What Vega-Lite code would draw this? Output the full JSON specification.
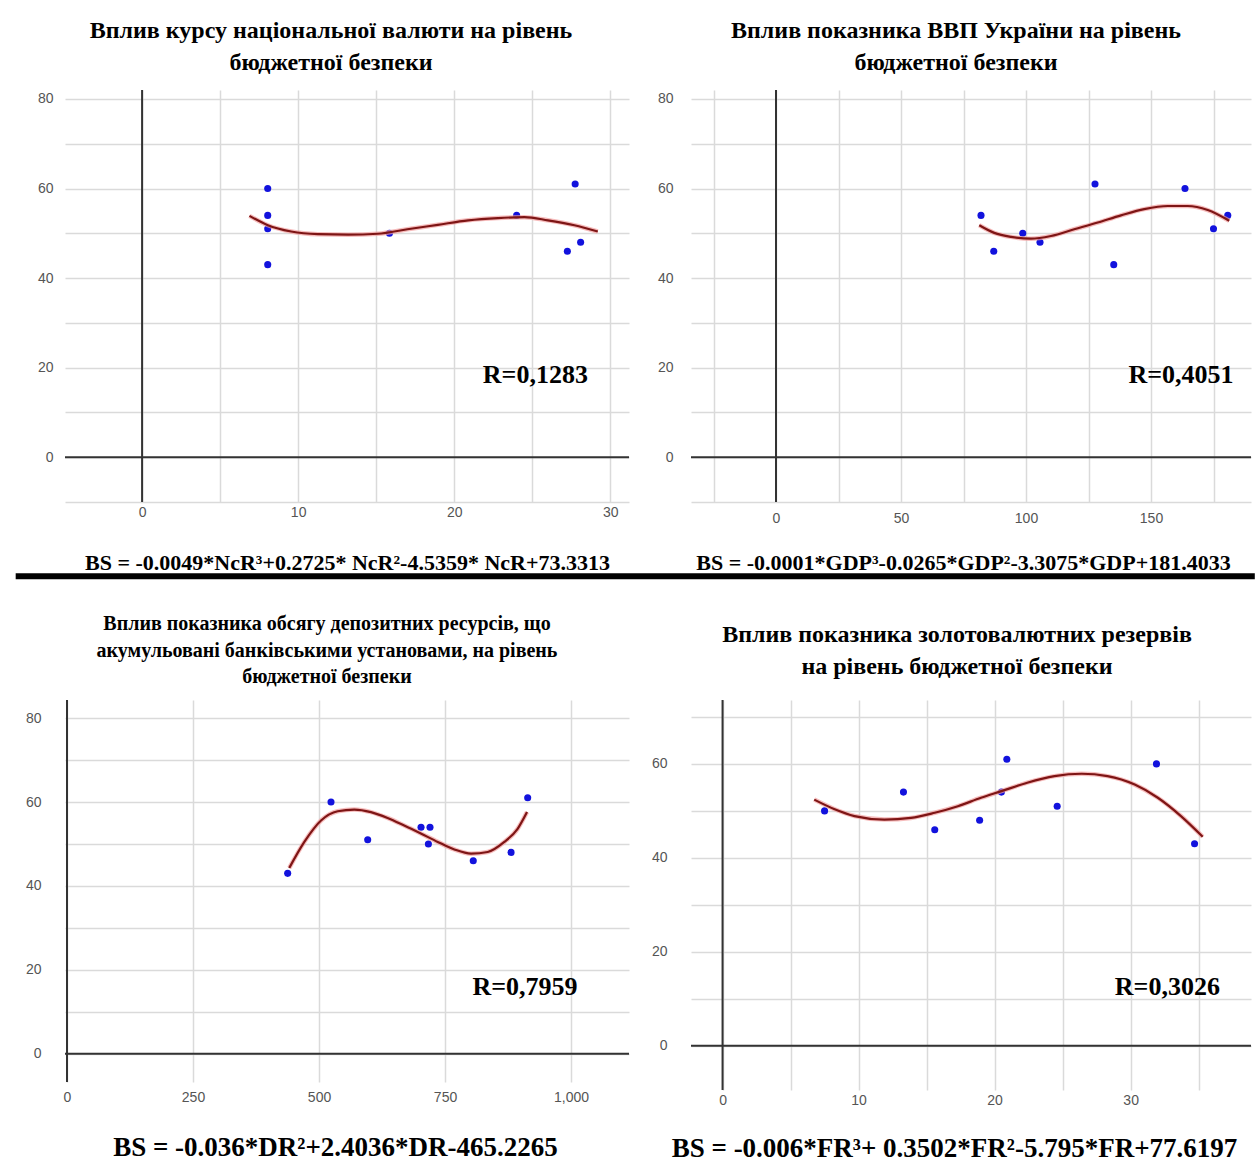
{
  "$schema": "https://vega.github.io/schema/vega-lite/v6.json",
  "background": "white",
  "padding": {"left": 12, "top": 19, "right": 0, "bottom": 4},
  "columns": 2,
  "bounds": "flush",
  "spacing": {"row": 198, "column": 62},
  "config": {
    "view": {"stroke": null},
    "axis": {"domain": false, "ticks": false, "grid": true, "gridColor": "#dadada", "gridWidth": 1.5, "labelFont": "Liberation Sans", "labelFontSize": 14, "labelColor": "#555", "titleFont": "Liberation Serif", "titleFontWeight": "bold", "titleFontSize": 22, "titleColor": "#000"},
    "title": {"font": "Liberation Serif", "fontWeight": "bold", "fontSize": 24, "color": "#000", "frame": "group", "anchor": "middle"}
  },
  "concat": [
    {
      "width": 564, "height": 412,
      "title": {"text": ["Вплив курсу національної валюти на рівень", "бюджетної безпеки"], "lineHeight": 32, "offset": 14, "dx": -16},
      "layer": [
        {
          "data": {"values": [{"x": 8.05, "y": 60}, {"x": 8.05, "y": 54}, {"x": 8.05, "y": 51}, {"x": 8.05, "y": 43}, {"x": 15.85, "y": 50}, {"x": 24.0, "y": 54}, {"x": 27.25, "y": 46}, {"x": 27.75, "y": 61}, {"x": 28.1, "y": 48}]},
          "mark": {"type": "circle", "size": 50, "color": "#1212dd", "opacity": 1},
          "encoding": {
            "x": {"field": "x", "type": "quantitative", "scale": {"domain": [-4.94, 31.2], "nice": false, "zero": false},
              "axis": {"values": [0, 5, 10, 15, 20, 25, 30], "labelExpr": "datum.value % 10 === 0 ? datum.label : ''", "labelPadding": 3, "title": "BS = -0.0049*NcR³+0.2725* NcR²-4.5359* NcR+73.3313", "titlePadding": 33}},
            "y": {"field": "y", "type": "quantitative", "scale": {"domain": [-10, 82], "nice": false, "zero": false},
              "axis": {"values": [-10, 0, 10, 20, 30, 40, 50, 60, 70, 80], "labelExpr": "datum.value % 20 === 0 && datum.value >= 0 ? datum.label : ''", "labelPadding": 12, "title": null}}
          }
        },
        {"data": {"values": [{"v": 0}]}, "mark": {"type": "rule", "color": "#333", "strokeWidth": 2}, "encoding": {"x": {"field": "v", "type": "quantitative"}}},
        {"data": {"values": [{"v": 0}]}, "mark": {"type": "rule", "color": "#333", "strokeWidth": 2}, "encoding": {"y": {"field": "v", "type": "quantitative"}}},
        {"data": {"values": [{"a": -8.1, "b": 71.3, "c": -26.6}]}, "mark": {"type": "rule", "color": "#000", "strokeWidth": 6}, "encoding": {"x": {"field": "a", "type": "quantitative"}, "x2": {"field": "b"}, "y": {"field": "c", "type": "quantitative"}}},
        {
          "data": {"values": [{"x": 6.88, "y": 53.9}, {"x": 8.06, "y": 51.8}, {"x": 9.55, "y": 50.4}, {"x": 11.26, "y": 49.8}, {"x": 13.2, "y": 49.7}, {"x": 15.1, "y": 49.9}, {"x": 17.0, "y": 50.9}, {"x": 18.95, "y": 51.9}, {"x": 20.9, "y": 52.9}, {"x": 22.8, "y": 53.4}, {"x": 24.5, "y": 53.6}, {"x": 26.0, "y": 52.9}, {"x": 27.7, "y": 51.8}, {"x": 29.2, "y": 50.4}]},
          "layer": [
            {"mark": {"type": "line", "color": "#f2a0a0", "strokeWidth": 4.5, "interpolate": "monotone", "opacity": 0.7}, "encoding": {"x": {"field": "x", "type": "quantitative"}, "y": {"field": "y", "type": "quantitative"}}},
            {"mark": {"type": "line", "color": "#7e1515", "strokeWidth": 2.2, "interpolate": "monotone"}, "encoding": {"x": {"field": "x", "type": "quantitative"}, "y": {"field": "y", "type": "quantitative"}}}
          ]
        },
        {
          "data": {"values": [{"x": 25.2, "y": 18.3, "label": "R=0,1283"}]},
          "mark": {"type": "text", "font": "Liberation Serif", "fontWeight": "bold", "fontSize": 26, "color": "#000"},
          "encoding": {"x": {"field": "x", "type": "quantitative"}, "y": {"field": "y", "type": "quantitative"}, "text": {"field": "label"}}
        }
      ]
    },
    {
      "width": 560, "height": 412,
      "title": {"text": ["Вплив показника ВВП України на рівень", "бюджетної безпеки"], "lineHeight": 32, "offset": 14, "dx": -15},
      "layer": [
        {
          "data": {"values": [{"x": 82.0, "y": 54}, {"x": 87.1, "y": 46}, {"x": 98.7, "y": 50}, {"x": 105.6, "y": 48}, {"x": 127.6, "y": 61}, {"x": 135.1, "y": 43}, {"x": 163.6, "y": 60}, {"x": 175.0, "y": 51}, {"x": 180.7, "y": 54}]},
          "mark": {"type": "circle", "size": 50, "color": "#1212dd", "opacity": 1},
          "encoding": {
            "x": {"field": "x", "type": "quantitative", "scale": {"domain": [-34, 190], "nice": false, "zero": false},
              "axis": {"values": [-25, 0, 25, 50, 75, 100, 125, 150, 175], "labelExpr": "datum.value % 50 === 0 && datum.value >= 0 && datum.value <= 150 ? datum.label : ''", "labelPadding": 9, "title": "BS = -0.0001*GDP³-0.0265*GDP²-3.3075*GDP+181.4033", "titlePadding": 27, "titleX": 272}},
            "y": {"field": "y", "type": "quantitative", "scale": {"domain": [-10, 82], "nice": false, "zero": false},
              "axis": {"values": [-10, 0, 10, 20, 30, 40, 50, 60, 70, 80], "labelExpr": "datum.value % 20 === 0 && datum.value >= 0 ? datum.label : ''", "labelPadding": 18, "title": null}}
          }
        },
        {"data": {"values": [{"v": 0}]}, "mark": {"type": "rule", "color": "#333", "strokeWidth": 2}, "encoding": {"x": {"field": "v", "type": "quantitative"}}},
        {"data": {"values": [{"v": 0}]}, "mark": {"type": "rule", "color": "#333", "strokeWidth": 2}, "encoding": {"y": {"field": "v", "type": "quantitative"}}},
        {
          "data": {"values": [{"x": 81.3, "y": 51.8}, {"x": 87.3, "y": 50.1}, {"x": 94.0, "y": 49.2}, {"x": 102.0, "y": 48.8}, {"x": 110.0, "y": 49.4}, {"x": 119.3, "y": 50.9}, {"x": 128.7, "y": 52.4}, {"x": 138.0, "y": 54.0}, {"x": 147.3, "y": 55.4}, {"x": 156.7, "y": 56.1}, {"x": 164.7, "y": 56.1}, {"x": 172.7, "y": 55.2}, {"x": 181.3, "y": 52.8}]},
          "layer": [
            {"mark": {"type": "line", "color": "#f2a0a0", "strokeWidth": 4.5, "interpolate": "monotone", "opacity": 0.7}, "encoding": {"x": {"field": "x", "type": "quantitative"}, "y": {"field": "y", "type": "quantitative"}}},
            {"mark": {"type": "line", "color": "#7e1515", "strokeWidth": 2.2, "interpolate": "monotone"}, "encoding": {"x": {"field": "x", "type": "quantitative"}, "y": {"field": "y", "type": "quantitative"}}}
          ]
        },
        {
          "data": {"values": [{"x": 162, "y": 18.3, "label": "R=0,4051"}]},
          "mark": {"type": "text", "font": "Liberation Serif", "fontWeight": "bold", "fontSize": 26, "color": "#000"},
          "encoding": {"x": {"field": "x", "type": "quantitative"}, "y": {"field": "y", "type": "quantitative"}, "text": {"field": "label"}}
        }
      ]
    },
    {
      "width": 564, "height": 382,
      "title": {"text": ["Вплив показника обсягу депозитних ресурсів, що", "акумульовані банківськими установами,  на рівень", "бюджетної безпеки"], "fontSize": 20, "lineHeight": 26.5, "offset": 12, "dx": -20},
      "layer": [
        {
          "data": {"values": [{"x": 437.8, "y": 43}, {"x": 523.8, "y": 60}, {"x": 596.6, "y": 51}, {"x": 702.4, "y": 54}, {"x": 720.2, "y": 54}, {"x": 717.0, "y": 50}, {"x": 806.0, "y": 46}, {"x": 881.0, "y": 48}, {"x": 914.0, "y": 61}]},
          "mark": {"type": "circle", "size": 50, "color": "#1212dd", "opacity": 1},
          "encoding": {
            "x": {"field": "x", "type": "quantitative", "scale": {"domain": [-3.97, 1115], "nice": false, "zero": false},
              "axis": {"values": [0, 250, 500, 750, 1000], "format": ",d", "labelPadding": 8, "title": "BS = -0.036*DR²+2.4036*DR-465.2265", "titleFontSize": 27, "titlePadding": 30, "titleX": 270}},
            "y": {"field": "y", "type": "quantitative", "scale": {"domain": [-6.7, 84.3], "nice": false, "zero": false},
              "axis": {"values": [0, 10, 20, 30, 40, 50, 60, 70, 80], "labelExpr": "datum.value % 20 === 0 ? datum.label : ''", "labelPadding": 24, "title": null}}
          }
        },
        {"data": {"values": [{"v": 0}]}, "mark": {"type": "rule", "color": "#333", "strokeWidth": 2}, "encoding": {"x": {"field": "v", "type": "quantitative"}}},
        {"data": {"values": [{"v": 0}]}, "mark": {"type": "rule", "color": "#333", "strokeWidth": 2}, "encoding": {"y": {"field": "v", "type": "quantitative"}}},
        {
          "data": {"values": [{"x": 441, "y": 44.3}, {"x": 470.9, "y": 50.5}, {"x": 504, "y": 55.6}, {"x": 537, "y": 57.8}, {"x": 570, "y": 58.2}, {"x": 603, "y": 57.6}, {"x": 636, "y": 56.2}, {"x": 669, "y": 54.4}, {"x": 702, "y": 52.5}, {"x": 735.5, "y": 50.5}, {"x": 768.5, "y": 48.7}, {"x": 801.6, "y": 47.7}, {"x": 834.7, "y": 48.1}, {"x": 867.7, "y": 50.5}, {"x": 894, "y": 53.6}, {"x": 912.7, "y": 57.6}]},
          "layer": [
            {"mark": {"type": "line", "color": "#f2a0a0", "strokeWidth": 4.5, "interpolate": "monotone", "opacity": 0.7}, "encoding": {"x": {"field": "x", "type": "quantitative"}, "y": {"field": "y", "type": "quantitative"}}},
            {"mark": {"type": "line", "color": "#7e1515", "strokeWidth": 2.2, "interpolate": "monotone"}, "encoding": {"x": {"field": "x", "type": "quantitative"}, "y": {"field": "y", "type": "quantitative"}}}
          ]
        },
        {
          "data": {"values": [{"x": 908.7, "y": 16.0, "label": "R=0,7959"}]},
          "mark": {"type": "text", "font": "Liberation Serif", "fontWeight": "bold", "fontSize": 26, "color": "#000"},
          "encoding": {"x": {"field": "x", "type": "quantitative"}, "y": {"field": "y", "type": "quantitative"}, "text": {"field": "label"}}
        }
      ]
    },
    {
      "width": 560, "height": 390,
      "title": {"text": ["Вплив показника золотовалютних резервів", "на рівень бюджетної безпеки"], "lineHeight": 32, "offset": 20, "dx": -14},
      "layer": [
        {
          "data": {"values": [{"x": 7.5, "y": 50}, {"x": 13.3, "y": 54}, {"x": 15.6, "y": 46}, {"x": 18.9, "y": 48}, {"x": 20.5, "y": 54}, {"x": 20.9, "y": 61}, {"x": 24.6, "y": 51}, {"x": 31.9, "y": 60}, {"x": 34.7, "y": 43}]},
          "mark": {"type": "circle", "size": 50, "color": "#1212dd", "opacity": 1},
          "encoding": {
            "x": {"field": "x", "type": "quantitative", "scale": {"domain": [-2.32, 38.85], "nice": false, "zero": false},
              "axis": {"values": [0, 5, 10, 15, 20, 25, 30, 35], "labelExpr": "datum.value % 10 === 0 ? datum.label : ''", "labelPadding": 3, "title": "BS = -0.006*FR³+ 0.3502*FR²-5.795*FR+77.6197", "titleFontSize": 27, "titlePadding": 28, "titleX": 263}},
            "y": {"field": "y", "type": "quantitative", "scale": {"domain": [-9.4, 73.6], "nice": false, "zero": false},
              "axis": {"values": [0, 10, 20, 30, 40, 50, 60, 70], "labelExpr": "datum.value % 20 === 0 ? datum.label : ''", "labelPadding": 24, "title": null}}
          }
        },
        {"data": {"values": [{"v": 0}]}, "mark": {"type": "rule", "color": "#333", "strokeWidth": 2}, "encoding": {"x": {"field": "v", "type": "quantitative"}}},
        {"data": {"values": [{"v": 0}]}, "mark": {"type": "rule", "color": "#333", "strokeWidth": 2}, "encoding": {"y": {"field": "v", "type": "quantitative"}}},
        {
          "data": {"values": [{"x": 6.74, "y": 52.4}, {"x": 8.2, "y": 50.4}, {"x": 9.7, "y": 48.9}, {"x": 11.9, "y": 48.15}, {"x": 13.85, "y": 48.5}, {"x": 15.6, "y": 49.6}, {"x": 17.3, "y": 51.0}, {"x": 19.0, "y": 52.8}, {"x": 20.5, "y": 54.2}, {"x": 22.4, "y": 56.0}, {"x": 24.4, "y": 57.4}, {"x": 26.4, "y": 57.9}, {"x": 28.3, "y": 57.4}, {"x": 30.3, "y": 55.6}, {"x": 32.0, "y": 52.8}, {"x": 33.7, "y": 48.9}, {"x": 35.3, "y": 44.5}]},
          "layer": [
            {"mark": {"type": "line", "color": "#f2a0a0", "strokeWidth": 4.5, "interpolate": "monotone", "opacity": 0.7}, "encoding": {"x": {"field": "x", "type": "quantitative"}, "y": {"field": "y", "type": "quantitative"}}},
            {"mark": {"type": "line", "color": "#7e1515", "strokeWidth": 2.2, "interpolate": "monotone"}, "encoding": {"x": {"field": "x", "type": "quantitative"}, "y": {"field": "y", "type": "quantitative"}}}
          ]
        },
        {
          "data": {"values": [{"x": 32.7, "y": 12.5, "label": "R=0,3026"}]},
          "mark": {"type": "text", "font": "Liberation Serif", "fontWeight": "bold", "fontSize": 26, "color": "#000"},
          "encoding": {"x": {"field": "x", "type": "quantitative"}, "y": {"field": "y", "type": "quantitative"}, "text": {"field": "label"}}
        }
      ]
    }
  ]
}
